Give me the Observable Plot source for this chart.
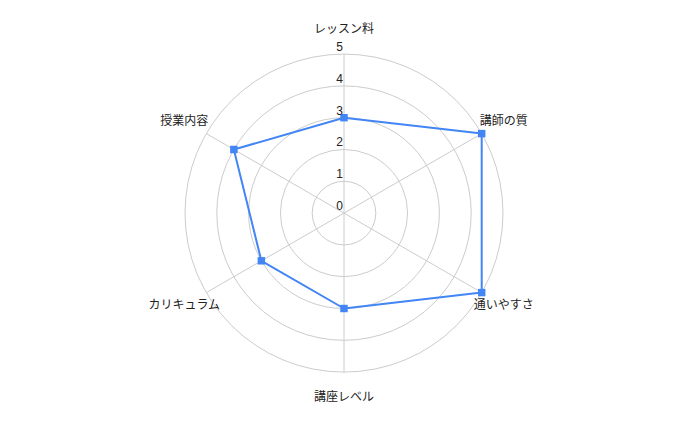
<!DOCTYPE html>
<html><head><meta charset="utf-8">
<script src="https://cdn.jsdelivr.net/npm/d3@7"></script>
<script src="https://cdn.jsdelivr.net/npm/@observablehq/plot@0.6"></script>
<style>body{margin:0;background:#fff}</style>
</head><body><div id="chart"></div>
<script>
const categories = ["レッスン料","講師の質","通いやすさ","講座レベル","カリキュラム","授業内容"];
const values = [3,5,5,3,3,4];
const ticks = [0,1,2,3,4,5];
const rings = [1,2,3,4,5];
const maxValue = 5;
const labelRadius = 5.8;

const W = 688, H = 425, cx = 343.5, cy = 212.6, unit = 31.8;
const n = categories.length;
const ang = i => 2 * Math.PI * i / n;
const pts = categories.map((c, i) => ({c, v: values[i], x: values[i] * Math.sin(ang(i)), y: values[i] * Math.cos(ang(i))}));
const spokes = categories.map((c, i) => ({x: maxValue * Math.sin(ang(i)), y: maxValue * Math.cos(ang(i))}));
const labels = categories.map((c, i) => ({c, x: labelRadius * Math.sin(ang(i)), y: labelRadius * Math.cos(ang(i))}));

const chart = Plot.plot({
  width: W, height: H, margin: 0,
  style: {fontFamily: "Arial, 'Liberation Sans', 'Noto Sans CJK JP', sans-serif", fontSize: "12px", color: "#222", background: "#fff"},
  x: {domain: [-cx / unit, (W - cx) / unit], range: [0, W], axis: null},
  y: {domain: [-(H - cy) / unit, cy / unit], range: [H, 0], axis: null},
  r: {type: "linear", domain: [0, maxValue], range: [0, maxValue * unit]},
  marks: [
    Plot.dot(rings, {x: () => 0, y: () => 0, r: d => d, stroke: "#cccccc", strokeWidth: 1, fill: "none"}),
    Plot.link(spokes, {x1: () => 0, y1: () => 0, x2: "x", y2: "y", stroke: "#cccccc", strokeWidth: 1}),
    Plot.line(pts, {x: "x", y: "y", curve: "linear-closed", stroke: "#4285f4", strokeWidth: 2}),
    Plot.dot(pts, {x: "x", y: "y", symbol: "square", r: 4.2, fill: "#4285f4", stroke: "none"}),
    Plot.text(ticks, {x: () => 0, y: d => d, text: d => String(d), textAnchor: "end", dx: -1, dy: -7, fontSize: 12, fill: "#222"}),
    Plot.text(labels, {x: "x", y: "y", text: "c", textAnchor: "middle", fontSize: 12, fill: "#222"})
  ]
});
document.getElementById("chart").appendChild(chart);
</script>
</body></html>
